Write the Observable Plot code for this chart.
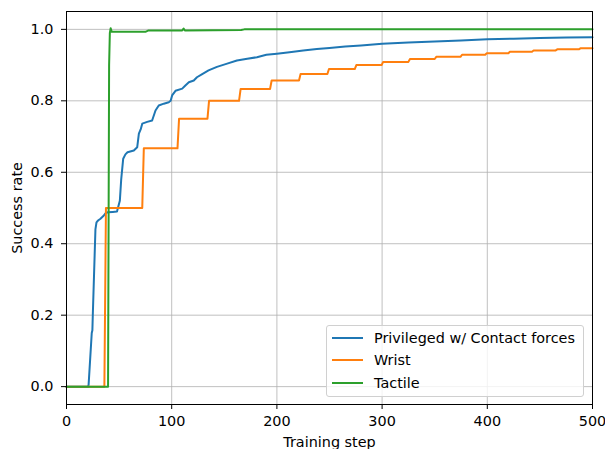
<!DOCTYPE html>
<html><head><meta charset="utf-8">
<script src="https://cdn.jsdelivr.net/npm/d3@7"></script>
<script src="https://cdn.jsdelivr.net/npm/@observablehq/plot@0.6"></script>
<style>
html,body{margin:0;padding:0;background:#fff;}
#wrap{position:relative;width:605px;height:449px;overflow:hidden;font-family:"DejaVu Sans",sans-serif;}
#legend{position:absolute;left:326px;top:325px;width:258px;height:72px;box-sizing:border-box;border:1px solid #d0d0d0;border-radius:3px;background:rgba(255,255,255,0.8);font-size:14.4px;color:#000;}
.row{position:absolute;left:5px;height:20px;display:flex;align-items:center;white-space:nowrap;}
.sw{width:31px;height:2px;margin-right:11px;}
</style></head><body><div id="wrap"></div>
<script>
const seriesNames = ["Privileged w/ Contact forces", "Wrist", "Tactile"];
const seriesColors = ["#1f77b4", "#ff7f0e", "#2ca02c"];
const xTicks = [0, 100, 200, 300, 400, 500];
const yTicks = [0, 0.2, 0.4, 0.6, 0.8, 1.0];
const xLabel = "Training step";
const yLabel = "Success rate";

const privileged = [[0,0],[20.5,0],[21,0.005],[24,0.15],[24.6,0.158],[25,0.2],[27.5,0.44],[28.5,0.46],[30,0.465],[32.3,0.47],[35.5,0.479],[37,0.485],[39,0.488],[44,0.489],[48,0.49],[50.7,0.52],[52,0.58],[53.9,0.638],[56,0.65],[58,0.656],[64,0.661],[67.2,0.67],[68.8,0.708],[70.5,0.72],[72,0.736],[76.7,0.741],[81.4,0.745],[84.6,0.773],[87.7,0.787],[92.5,0.792],[97.2,0.796],[99,0.8],[100.4,0.815],[103.6,0.828],[110,0.834],[113,0.843],[116.3,0.852],[121,0.857],[124,0.866],[129,0.875],[135,0.885],[143,0.895],[152.7,0.904],[162,0.913],[171.8,0.918],[181,0.922],[190,0.929],[200,0.932],[212,0.936],[225,0.941],[238,0.945],[250,0.948],[265,0.952],[280,0.955],[300,0.96],[325,0.963],[350,0.966],[375,0.969],[400,0.972],[425,0.974],[450,0.976],[475,0.977],[500,0.978]];
const wrist = [[0,0],[36,0],[37.5,0.5],[72,0.5],[73.5,0.667],[105.5,0.667],[107,0.75],[134,0.75],[135.5,0.8],[164,0.8],[165.5,0.833],[193.5,0.833],[195,0.857],[221,0.857],[222.5,0.875],[248,0.875],[249.5,0.889],[274,0.889],[275.5,0.9],[299.5,0.9],[301,0.909],[325,0.909],[326.5,0.917],[350,0.917],[351.5,0.923],[374.5,0.923],[376,0.929],[398,0.929],[399.5,0.933],[420,0.933],[421.5,0.9375],[442.5,0.9375],[444,0.941],[465,0.941],[466.5,0.944],[487,0.944],[488.5,0.947],[500,0.947]];
const tactile = [[0,0],[39.5,0],[40.5,0.9],[41.2,0.99],[42,1.003],[43,0.993],[75,0.993],[78,0.997],[110,0.997],[111.3,1.002],[112.5,0.997],[166,0.998],[169,1.0],[500,1.0]];

const seriesData = [privileged, wrist, tactile];
const rows = seriesData.flatMap((d, i) => d.map(([x, y]) => ({x, y, s: seriesNames[i]})));

const chart = Plot.plot({
  width: 605, height: 449,
  marginLeft: 66, marginRight: 13, marginTop: 11, marginBottom: 45,
  style: {fontSize: "14.4px", fontFamily: "DejaVu Sans, sans-serif", color: "#000", background: "#fff"},
  x: {domain: [0, 500]},
  y: {domain: [-0.05, 1.05]},
  color: {domain: seriesNames, range: seriesColors},
  marks: [
    Plot.gridX(xTicks, {stroke: "#b0b0b0", strokeOpacity: 1, strokeWidth: 0.8}),
    Plot.gridY(yTicks, {stroke: "#b0b0b0", strokeOpacity: 1, strokeWidth: 0.8}),
    Plot.line(rows, {x: "x", y: "y", z: "s", stroke: "s", strokeWidth: 2, curve: "linear"}),
    Plot.frame({stroke: "#000", strokeWidth: 1}),
    Plot.axisX({ticks: xTicks, tickFormat: d3.format("d"), tickSize: 5, tickPadding: 6, label: xLabel, labelAnchor: "center", labelArrow: "none", labelOffset: 42}),
    Plot.axisY({ticks: yTicks, tickFormat: d3.format(".1f"), tickSize: 5, tickPadding: 8, label: yLabel, labelAnchor: "center", labelArrow: "none", labelOffset: 55})
  ]
});
const wrap = document.getElementById("wrap");
wrap.appendChild(chart);

const legend = document.createElement("div");
legend.id = "legend";
const rowTops = [1.7, 24.3, 46.7];
seriesNames.forEach((name, i) => {
  const r = document.createElement("div");
  r.className = "row";
  r.style.top = rowTops[i] + "px";
  const sw = document.createElement("div");
  sw.className = "sw";
  sw.style.background = seriesColors[i];
  const t = document.createElement("span");
  t.textContent = name;
  r.appendChild(sw); r.appendChild(t);
  legend.appendChild(r);
});
wrap.appendChild(legend);
</script>
</body></html>
